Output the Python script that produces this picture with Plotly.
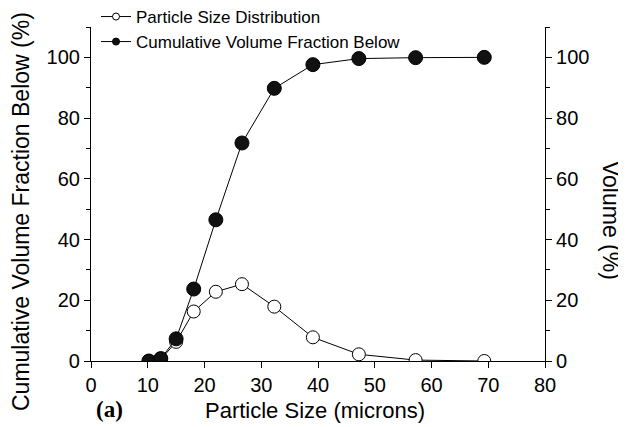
import plotly.graph_objects as go

# Data
particle_size = [10.2, 12.3, 15.0, 18.1, 22.0, 26.6, 32.3, 39.1, 47.2, 57.2, 69.3]
cumulative_below = [0.0, 0.8, 7.3, 23.7, 46.5, 71.8, 89.8, 97.6, 99.6, 99.9, 100.0]
size_distribution = [0.0, 0.5, 6.3, 16.3, 22.8, 25.3, 17.9, 7.8, 2.2, 0.3, 0.0]

x_ticks = [0, 10, 20, 30, 40, 50, 60, 70, 80]
y_ticks = [0, 20, 40, 60, 80, 100]

FONT = "Liberation Sans, Arial, sans-serif"
OFF = 8  # page body margin in the browser
W, H = 626 - OFF, 427 - OFF
L, T = 91 - OFF, 27 - OFF
R, B = 81, 66
PW, PH = W - L - R, H - T - B


def px(x):
    # page pixel x -> paper fraction
    return (x - OFF - L) / PW


def py(y):
    # page pixel y -> paper fraction
    return (H - B - (y - OFF)) / PH


fig = go.Figure()

open_marker = dict(symbol="circle", color="white", line=dict(color="black", width=1))
filled_marker = dict(symbol="circle", color="#111111", line=dict(color="black", width=1))

fig.add_trace(go.Scatter(
    x=particle_size, y=size_distribution, mode="lines+markers",
    name="Particle Size Distribution", showlegend=False,
    line=dict(color="black", width=1), marker=dict(size=13, **open_marker),
))
fig.add_trace(go.Scatter(
    x=particle_size, y=cumulative_below, mode="lines+markers",
    name="Cumulative Volume Fraction Below", showlegend=False,
    line=dict(color="black", width=1), marker=dict(size=14, **filled_marker),
))
# legend entries (smaller symbols, as in the reference legend)
fig.add_trace(go.Scatter(
    x=[None], y=[None], mode="lines+markers", name="Particle Size Distribution",
    line=dict(color="black", width=1), marker=dict(size=7, **open_marker), legend="legend",
))
fig.add_trace(go.Scatter(
    x=[None], y=[None], mode="lines+markers", name="Cumulative Volume Fraction Below",
    line=dict(color="black", width=1), marker=dict(size=7, **filled_marker), legend="legend2",
))
# empty trace to activate the right-hand axis
fig.add_trace(go.Scatter(x=[None], y=[None], yaxis="y2", showlegend=False, hoverinfo="skip"))

axis_common = dict(
    showline=True, linecolor="black", linewidth=1.2,
    ticks="outside", ticklen=6, tickwidth=1.2, tickcolor="black",
    showgrid=False, zeroline=False,
    tickfont=dict(family=FONT, size=20, color="black"),
)
minor = dict(ticks="outside", ticklen=4, tickwidth=1, tickcolor="black", dtick=10, tick0=0)

fig.update_layout(
    width=W, height=H,
    margin=dict(l=L, r=R, t=T, b=B, autoexpand=False),
    plot_bgcolor="white", paper_bgcolor="white",
    xaxis=dict(range=[0, 80], tickvals=x_ticks, **axis_common),
    yaxis=dict(range=[0, 110], tickvals=y_ticks, minor=minor, **axis_common),
    yaxis2=dict(range=[0, 110], tickvals=y_ticks, overlaying="y", side="right",
                minor=minor, **axis_common),
    showlegend=True,
    legend=dict(x=px(96), y=py(17), xanchor="left", yanchor="middle",
                font=dict(family=FONT, size=17, color="black"), bgcolor="rgba(0,0,0,0)"),
    legend2=dict(x=px(96), y=py(42), xanchor="left", yanchor="middle",
                 font=dict(family=FONT, size=17, color="black"), bgcolor="rgba(0,0,0,0)"),
    annotations=[
        dict(text="Cumulative Volume Fraction Below (%)", xref="paper", yref="paper",
             x=px(21), y=py(212), xanchor="center", yanchor="middle", textangle=-90,
             showarrow=False, font=dict(family=FONT, size=23, color="black")),
        dict(text="Volume (%)", xref="paper", yref="paper",
             x=px(611), y=py(220), xanchor="center", yanchor="middle", textangle=90,
             showarrow=False, font=dict(family=FONT, size=23, color="black")),
        dict(text="Particle Size (microns)", xref="paper", yref="paper",
             x=px(315), y=py(410), xanchor="center", yanchor="middle",
             showarrow=False, font=dict(family=FONT, size=22, color="black")),
        dict(text="<b>(a)</b>", xref="paper", yref="paper",
             x=px(109), y=py(409), xanchor="center", yanchor="middle",
             showarrow=False, font=dict(family="Liberation Serif, Times New Roman, serif",
                                        size=23, color="black")),
    ],
)

fig.write_html("out.html")
